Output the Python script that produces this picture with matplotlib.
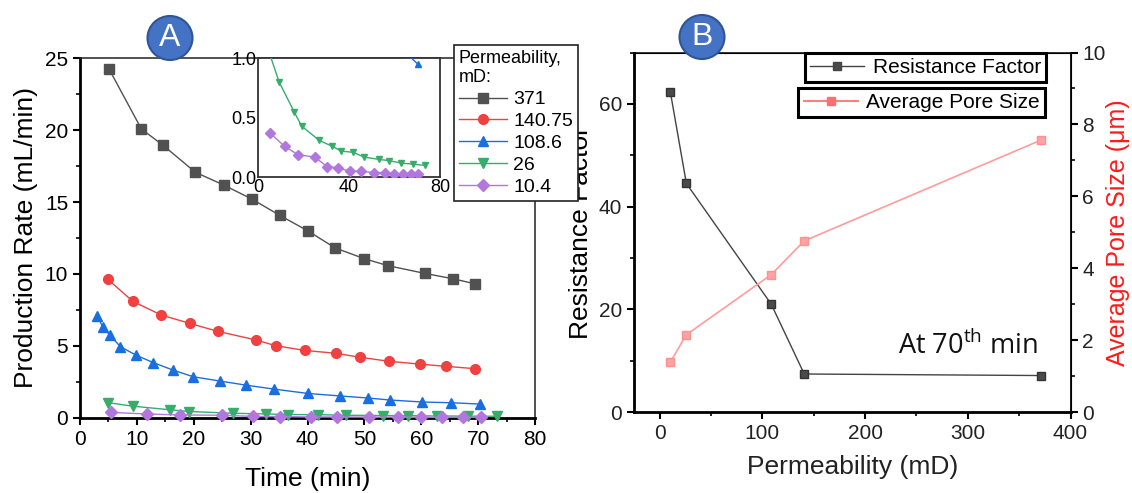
import matplotlib
matplotlib.use("Agg")
import matplotlib.pyplot as plt
from matplotlib.lines import Line2D
from matplotlib.patches import Ellipse
from matplotlib.ticker import MultipleLocator

plt.rcParams['font.family'] = ['Liberation Sans', 'DejaVu Sans']
plt.rcParams['mathtext.fontset'] = 'custom'
plt.rcParams['mathtext.rm'] = 'Open Sans'

# ---------------- Panel A: production rate vs time ----------------
perm_labels = ["371", "140.75", "108.6", "26", "10.4"]

t_371 = [5.1, 10.8, 14.6, 20.3, 25.4, 30.3, 35.1, 40.0, 44.9, 50.0, 54.1, 60.6, 65.5, 69.4]
q_371 = [24.26, 20.08, 18.95, 17.07, 16.16, 15.19, 14.08, 13.01, 11.80, 11.06, 10.58, 10.04, 9.67, 9.32]

t_140 = [4.9, 9.3, 14.3, 19.3, 24.2, 31.0, 34.4, 39.5, 45.0, 49.3, 54.4, 59.7, 64.4, 69.5]
q_140 = [9.62, 8.09, 7.14, 6.56, 6.01, 5.40, 5.01, 4.68, 4.48, 4.20, 3.92, 3.73, 3.57, 3.41]

t_108 = [3.0, 4.0, 5.3, 7.1, 9.9, 12.9, 16.3, 19.9, 24.6, 29.1, 34.1, 40.0, 45.8, 50.6, 54.5, 60.2, 65.3, 70.3]
q_108 = [7.10, 6.31, 5.73, 4.94, 4.34, 3.83, 3.32, 2.85, 2.55, 2.27, 1.99, 1.69, 1.51, 1.37, 1.23, 1.09, 1.04, 0.95]

t_26 = [4.9, 9.3, 15.9, 19.2, 26.9, 32.7, 36.6, 41.8, 46.7, 53.3, 57.7, 62.7, 68.3, 73.4]
q_26 = [1.05, 0.80, 0.55, 0.43, 0.31, 0.26, 0.22, 0.21, 0.17, 0.15, 0.14, 0.12, 0.11, 0.10]

t_10 = [5.4, 11.7, 17.6, 24.9, 30.4, 35.2, 40.6, 45.2, 50.9, 55.9, 59.9, 63.6, 67.3, 70.5]
q_10 = [0.37, 0.26, 0.19, 0.17, 0.09, 0.08, 0.05, 0.05, 0.04, 0.04, 0.03, 0.03, 0.03, 0.03]

series_t = [t_371, t_140, t_108, t_26, t_10]
series_q = [q_371, q_140, q_108, q_26, q_10]
colors = ['#515151', '#F14040', '#1A6FDF', '#37AD6B', '#B177DE']
markers = ['s', 'o', '^', 'v', 'D']

# ---------------- Panel B: resistance factor & pore size ----------------
perm_md = [10.4, 26, 108.6, 140.75, 371]
resistance_factor = [62.3, 44.5, 21.0, 7.4, 7.1]
pore_size_um = [1.39, 2.15, 3.82, 4.76, 7.56]

W, H = 1132, 493
fig = plt.figure(figsize=(W / 100, H / 100), dpi=100)


def px_rect(left, top, right, bottom):
    return [left / W, 1 - bottom / H, (right - left) / W, (bottom - top) / H]


# ---- main axes A
axA = fig.add_axes(px_rect(80, 58.3, 535, 417.7))
for t, q, c, m, lab in zip(series_t, series_q, colors, markers, perm_labels):
    ms = 7 if m != 'D' else 6
    axA.plot(t, q, color=c, marker=m, ms=ms, lw=1.0, mec=c, mfc=c,
             label=lab, clip_on=False, zorder=3)
axA.set_xlim(0, 80)
axA.set_ylim(0, 25)
axA.xaxis.set_major_locator(MultipleLocator(10))
axA.xaxis.set_minor_locator(MultipleLocator(5))
axA.yaxis.set_major_locator(MultipleLocator(5))
axA.yaxis.set_minor_locator(MultipleLocator(2.5))
axA.tick_params(which='both', direction='out', labelsize=15, top=False, right=False)
axA.tick_params(which='major', length=5, width=1.5)
axA.tick_params(which='minor', length=3, width=1.2)
for s in ['left', 'bottom']:
    axA.spines[s].set_linewidth(2.0)
for s in ['top', 'right']:
    axA.spines[s].set_linewidth(1.1)
    axA.spines[s].set_color('#222222')
axA.set_xlabel('Time (min)', fontsize=19, labelpad=13)
axA.set_ylabel('Production Rate (mL/min)', fontsize=19, labelpad=5)

# legend for A
handles = [Line2D([0], [0], color=c, marker=m, ms=7 if m != 'D' else 6, lw=1.0)
           for c, m in zip(colors, markers)]
legA = fig.legend(handles, perm_labels, title='Permeability,\nmD:',
                  loc='upper left', bbox_to_anchor=(454 / W, 1 - 45 / H),
                  bbox_transform=fig.transFigure,
                  fontsize=14, title_fontsize=13, frameon=True, fancybox=False,
                  edgecolor='#222222', framealpha=1, borderpad=0.25,
                  labelspacing=0.22, handlelength=2.5, handletextpad=0.3,
                  borderaxespad=0)
legA._legend_box.align = 'left'
legA.get_frame().set_linewidth(1.2)

# ---- inset
axI = fig.add_axes(px_rect(258, 58.3, 440, 177.3))
for t, q, c, m in zip(series_t, series_q, colors, markers):
    axI.plot(t, q, color=c, marker=m, ms=5, lw=1.0, mec=c, mfc=c, zorder=3)
axI.set_xlim(0, 80)
axI.set_ylim(0, 1.0)
axI.set_xticks([0, 40, 80])
axI.set_yticks([0.0, 0.5, 1.0])
axI.set_yticklabels(['0.0', '0.5', '1.0'])
axI.tick_params(which='both', direction='in', length=0, labelsize=13, pad=1)
for s in axI.spines.values():
    s.set_linewidth(1.3)
    s.set_color('#333333')

# ---- axes B
axB = fig.add_axes(px_rect(634, 52.5, 1070.5, 412))
axB.plot(perm_md, resistance_factor, color='#444444', lw=1.0, marker='s', ms=6,
         mfc='#4a4a4a', mec='#333333', zorder=3)
axB.set_xlim(-25, 400)
axB.set_ylim(0, 70)
axB.xaxis.set_major_locator(MultipleLocator(100))
axB.xaxis.set_minor_locator(MultipleLocator(50))
axB.set_yticks([0, 20, 40, 60])
axB.yaxis.set_minor_locator(MultipleLocator(10))
axB.tick_params(which='both', direction='out', labelsize=15, labelcolor='#222222')
axB.tick_params(which='major', length=5, width=1.5)
axB.tick_params(which='minor', length=3, width=1.2)
for s in ['left', 'bottom']:
    axB.spines[s].set_linewidth(2.0)
axB.spines['top'].set_linewidth(1.1)
axB.spines['right'].set_linewidth(1.3)
axB.set_xlabel('Permeability (mD)', fontsize=19, labelpad=9, color='#222222')
axB.set_ylabel('Resistance Factor', fontsize=19, labelpad=4)

axB2 = axB.twinx()
axB2.plot(perm_md, pore_size_um, color='#FF9C9C', lw=1.2, marker='s', ms=6,
          mfc='#FFA3A3', mec='#FF9090', zorder=3)
axB2.set_ylim(0, 10)
axB2.yaxis.set_major_locator(MultipleLocator(2))
axB2.yaxis.set_minor_locator(MultipleLocator(1))
axB2.tick_params(which='both', direction='out', labelsize=15, labelcolor='#222222')
axB2.tick_params(which='major', length=5, width=1.5)
axB2.tick_params(which='minor', length=3, width=1.2)
axB2.set_ylabel('Average Pore Size (μm)', fontsize=18, color='#FF1A1A', labelpad=0)

axB.text(232, 12.8, r'At 70$^{\mathrm{th}}$ min', fontsize=19.5, va='center',
         ha='left', color='#111111', family='Open Sans')

# two separate legend boxes for B
h_rf = Line2D([0], [0], color='#444444', lw=1.0, marker='s', ms=6, mfc='#4a4a4a')
h_ps = Line2D([0], [0], color='#FF8080', lw=1.5, marker='s', ms=6, mfc='#FF6F6F', mec='#FF6F6F')
leg1 = fig.legend([h_rf], ['Resistance Factor'], loc='upper right',
                  bbox_to_anchor=(1046 / W, 1 - 53 / H), bbox_transform=fig.transFigure,
                  fontsize=15, frameon=True, fancybox=False, edgecolor='black',
                  framealpha=1, borderpad=0.25, handlelength=2.6, handletextpad=0.4,
                  borderaxespad=0)
leg1.get_frame().set_linewidth(2.2)
leg2 = fig.legend([h_ps], ['Average Pore Size'], loc='upper right',
                  bbox_to_anchor=(1045 / W, 1 - 88 / H), bbox_transform=fig.transFigure,
                  fontsize=15, frameon=True, fancybox=False, edgecolor='black',
                  framealpha=1, borderpad=0.25, handlelength=2.6, handletextpad=0.4,
                  borderaxespad=0)
leg2.get_frame().set_linewidth(2.2)

# panel badges
for cx, cy, letter in [(170, 38, 'A'), (702, 37, 'B')]:
    badge = Ellipse((cx / W, 1 - cy / H), width=45 / W, height=44 / H,
                    transform=fig.transFigure, facecolor='#4472C4',
                    edgecolor='#2F5597', lw=1.5, zorder=10)
    fig.add_artist(badge)
    fig.text(cx / W, 1 - cy / H, letter, color='white', fontsize=23,
             ha='center', va='center', zorder=11)

fig.savefig('out.png', dpi=100)
